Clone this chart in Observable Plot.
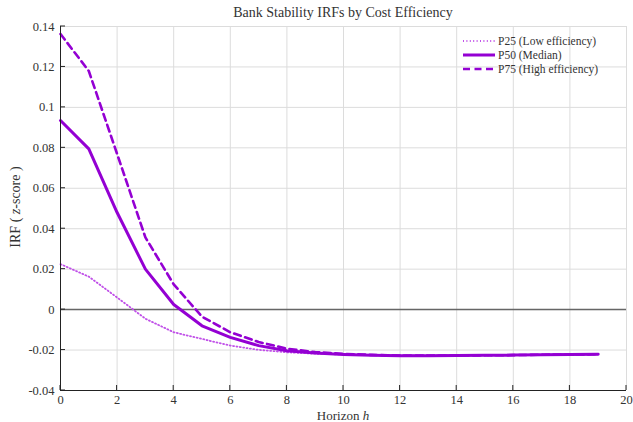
<!DOCTYPE html>
<html>
<head>
<meta charset="utf-8">
<script src="https://cdn.jsdelivr.net/npm/d3@7"></script>
<script src="https://cdn.jsdelivr.net/npm/@observablehq/plot@0.6"></script>
<style>
  html, body { margin: 0; padding: 0; background: #fff; }
  #wrap { position: relative; width: 633px; height: 422px; font-family: 'Liberation Serif', 'DejaVu Serif', serif; }
  #wrap svg text { font-family: 'Liberation Serif', 'DejaVu Serif', serif; }
  #legend { position: absolute; left: 461px; top: 34px; font-size: 11.5px; color: #333; font-family: 'Liberation Serif', serif; }
  .row { display: flex; align-items: center; height: 14px; }
  .row svg { margin-right: 3px; }
</style>
</head>
<body>
<div id="wrap"></div>
<script>
const title = "Bank Stability IRFs by Cost Efficiency";
const horizon = d3.range(0, 20);
const seriesNames = ["P25 (Low efficiency)", "P50 (Median)", "P75 (High efficiency)"];
const p25 = [0.0225, 0.0163, 0.006, -0.0045, -0.0112, -0.0145, -0.0178, -0.0199, -0.0211, -0.0218, -0.0222, -0.0225, -0.0227, -0.0227, -0.0227, -0.0226, -0.0225, -0.0223, -0.0222, -0.0221];
const p50 = [0.0935, 0.0795, 0.048, 0.020, 0.0025, -0.008, -0.0137, -0.0178, -0.0203, -0.0215, -0.0222, -0.0226, -0.0228, -0.0228, -0.0227, -0.0226, -0.0225, -0.0223, -0.0222, -0.0221];
const p75 = [0.1363, 0.118, 0.077, 0.0357, 0.0125, -0.0035, -0.0112, -0.016, -0.0193, -0.021, -0.0219, -0.0224, -0.0227, -0.0227, -0.0227, -0.0226, -0.0225, -0.0223, -0.0222, -0.0221];
const xTicks = d3.range(0, 21, 2);
const yTicks = [-0.04, -0.02, 0, 0.02, 0.04, 0.06, 0.08, 0.1, 0.12, 0.14];

const color = "#9400d3";
const styles = [
  {stroke: "#c050e8", strokeWidth: 1.8, strokeDasharray: "1,2.4"},
  {stroke: color, strokeWidth: 3, strokeDasharray: null},
  {stroke: color, strokeWidth: 2.6, strokeDasharray: "7,4.5"}
];
const seriesValues = [p25, p50, p75];
const tables = seriesValues.map(vals => horizon.map((h, i) => ({h, v: vals[i]})));

const fmt = d => String(+d.toFixed(2));
const FONT = "'Liberation Serif', 'DejaVu Serif', serif";

const chart = Plot.plot({
  width: 633,
  height: 422,
  marginLeft: 60,
  marginRight: 7,
  marginTop: 26,
  marginBottom: 32,
  style: {fontFamily: FONT, fontSize: "12.5px", color: "#333", background: "#fff"},
  x: {domain: [0, 20], ticks: xTicks},
  y: {domain: [-0.04, 0.14], ticks: yTicks},
  marks: [
    Plot.gridX(xTicks, {stroke: "#dcdcdc", strokeOpacity: 1}),
    Plot.gridY(yTicks, {stroke: "#dcdcdc", strokeOpacity: 1}),
    Plot.ruleY([0], {stroke: "#666", strokeWidth: 1.5}),
    ...tables.map((t, i) => Plot.line(t, {x: "h", y: "v", ...styles[i]})),
    Plot.ruleX([0], {stroke: "#222", strokeWidth: 1}),
    Plot.ruleY([-0.04], {stroke: "#222", strokeWidth: 1}),
    Plot.axisX(xTicks, {tickSize: 0, tickPadding: 5, label: null, tickFormat: fmt, fill: "#333"}),
    Plot.axisY(yTicks, {tickSize: 0, tickPadding: 6, label: null, tickFormat: fmt, fill: "#333"})
  ]
});

const wrap = document.getElementById("wrap");
wrap.appendChild(chart);

const svg = d3.select(chart);
const sx = chart.scale("x"), sy = chart.scale("y");
const x0 = sx.apply(0), yb = sy.apply(-0.04);
// inward ticks
const tg = svg.append("g").attr("stroke", "#222").attr("stroke-width", 1);
xTicks.forEach(t => {
  const px = sx.apply(t);
  tg.append("line").attr("x1", px).attr("x2", px).attr("y1", yb).attr("y2", yb - 5);
});
yTicks.forEach(t => {
  const py = sy.apply(t);
  tg.append("line").attr("x1", x0).attr("x2", x0 + 5).attr("y1", py).attr("y2", py);
});
// title
svg.append("text")
  .attr("x", 343).attr("y", 17)
  .attr("text-anchor", "middle")
  .attr("font-family", FONT)
  .attr("font-size", 14)
  .attr("fill", "#333")
  .text(title);
// x label
const xl = svg.append("text")
  .attr("x", 343).attr("y", 420)
  .attr("text-anchor", "middle")
  .attr("font-family", FONT)
  .attr("font-size", 13)
  .attr("fill", "#333");
xl.append("tspan").text("Horizon ");
xl.append("tspan").attr("font-style", "italic").text("h");
// y label
const yl = svg.append("text")
  .attr("transform", "translate(20,207) rotate(-90)")
  .attr("text-anchor", "middle")
  .attr("font-family", FONT)
  .attr("font-size", 14)
  .attr("fill", "#333");
yl.append("tspan").text("IRF ( ");
yl.append("tspan").attr("font-style", "italic").text("z");
yl.append("tspan").text("-score )");

// legend
const legend = d3.select(wrap).append("div").attr("id", "legend");
seriesNames.forEach((name, i) => {
  const row = legend.append("div").attr("class", "row");
  const s = row.append("svg").attr("width", 34).attr("height", 10);
  s.append("line").attr("x1", 2).attr("x2", 34).attr("y1", 5).attr("y2", 5)
    .attr("stroke", styles[i].stroke)
    .attr("stroke-width", styles[i].strokeWidth)
    .attr("stroke-dasharray", styles[i].strokeDasharray);
  row.append("span").text(name);
});
</script>
</body>
</html>
